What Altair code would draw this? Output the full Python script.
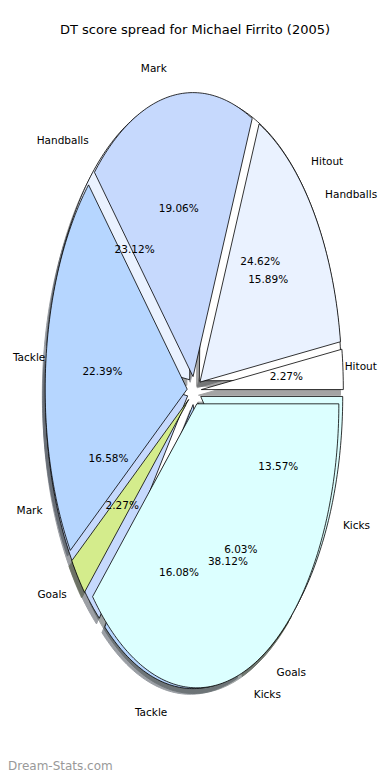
import altair as alt
import numpy as np
import pandas as pd

title_text = "DT score spread for Michael Firrito (2005)"
watermark = "Dream-Stats.com"
categories = ["Hitout", "Handballs", "Mark", "Tackle", "Goals", "Kicks"]
pie_front = [2.27, 15.89, 19.06, 22.39, 2.27, 38.12]
pie_back = [24.62, 23.12, 16.58, 16.08, 6.03, 13.57]
colors = ["#ffffff", "#eaf2ff", "#c6d9fd", "#b6d6ff", "#d4ec8c", "#dcffff"]
EXPLODE = 0.05
FONT_SIZE = 10.5

X_DOMAIN = [-1.3116, 1.3222]
Y_DOMAIN = [-1.3430, 1.3472]
WIDTH, HEIGHT = 374, 764
PX_PER_X = WIDTH / (X_DOMAIN[1] - X_DOMAIN[0])


def fit_label(x, text, side):
    """Keep a side label inside the drawing area (the page margin clips it)."""
    w = (len(text) * 0.56 * FONT_SIZE + 2) / PX_PER_X
    if side == "left":
        return min(x, X_DOMAIN[1] - w)
    return max(x, X_DOMAIN[0] + w)


def wedges(values, pie_name):
    total = sum(values)
    start = 0.0
    poly, shadow, labels = [], [], []
    for i, (cat, v, col) in enumerate(zip(categories, values, colors)):
        span = 360.0 * v / total
        t1, t2 = start, start + span
        mid = np.radians((t1 + t2) / 2)
        ex, ey = EXPLODE * np.cos(mid), EXPLODE * np.sin(mid)
        angs = np.radians(np.linspace(t1, t2, max(2, int(np.ceil(span)) + 1)))
        xs = np.concatenate([[ex], ex + np.cos(angs), [ex]])
        ys = np.concatenate([[ey], ey + np.sin(angs), [ey]])
        sid = f"{pie_name}-{i}"
        rgb = tuple(int(col[j:j + 2], 16) for j in (1, 3, 5))
        shade = "#%02x%02x%02x" % tuple(int(round(0.3 * c)) for c in rgb)
        for k, (x, y) in enumerate(zip(xs, ys)):
            poly.append(dict(slice=sid, k=k, x=float(x), y=float(y), fill=col))
            shadow.append(dict(slice=sid, k=k, x=float(x) - 0.02, y=float(y) - 0.02, fill=shade))
        lx, ly = (EXPLODE + 1.1) * np.cos(mid), (EXPLODE + 1.1) * np.sin(mid)
        side = "left" if lx > 0 else "right"
        labels.append(dict(text=cat, x=float(fit_label(lx, cat, side)), y=float(ly), side=side))
        px, py = (EXPLODE + 0.6) * np.cos(mid), (EXPLODE + 0.6) * np.sin(mid)
        labels.append(dict(text=f"{100 * v / total:.2f}%", x=float(px), y=float(py), side="center"))
        start = t2
    return poly, shadow, labels


back_poly, back_shadow, back_labels = wedges(pie_back, "back")
front_poly, front_shadow, front_labels = wedges(pie_front, "front")

shadow_df = pd.DataFrame(back_shadow + front_shadow)
back_df = pd.DataFrame(back_poly)
front_df = pd.DataFrame(front_poly)
label_df = pd.DataFrame(back_labels + front_labels)

xs = alt.Scale(domain=X_DOMAIN, nice=False, zero=False)
ys = alt.Scale(domain=Y_DOMAIN, nice=False, zero=False)
X = alt.X("x:Q", scale=xs, axis=None)
Y = alt.Y("y:Q", scale=ys, axis=None)

shadows = alt.Chart(shadow_df).mark_line(opacity=0.5, strokeWidth=1, interpolate="linear").encode(
    x=X, y=Y, order="k:Q", detail="slice:N",
    fill=alt.Fill("fill:N", scale=None), stroke=alt.Stroke("fill:N", scale=None),
)
back = alt.Chart(back_df).mark_line(stroke="black", strokeWidth=0.8, interpolate="linear").encode(
    x=X, y=Y, order="k:Q", detail="slice:N", fill=alt.Fill("fill:N", scale=None),
)
front = alt.Chart(front_df).mark_line(stroke="black", strokeWidth=0.8, interpolate="linear").encode(
    x=X, y=Y, order="k:Q", detail="slice:N", fill=alt.Fill("fill:N", scale=None),
)


def text_layer(side):
    return alt.Chart(label_df).transform_filter(alt.datum.side == side).mark_text(
        align=side, baseline="middle", fontSize=FONT_SIZE, font="DejaVu Sans", color="black"
    ).encode(x=X, y=Y, text="text:N")


title = alt.Chart(pd.DataFrame({"t": [title_text]})).mark_text(
    fontSize=13, font="DejaVu Sans", color="black", align="center", baseline="middle"
).encode(x=alt.value(187), y=alt.value(22), text="t:N")

wm = alt.Chart(pd.DataFrame({"t": [watermark]})).mark_text(
    fontSize=12, font="DejaVu Sans", color="#999999", align="left", baseline="alphabetic"
).encode(x=alt.value(0), y=alt.value(762), text="t:N")

chart = alt.layer(
    shadows, back, front, text_layer("left"), text_layer("right"), text_layer("center"), title, wm
).properties(
    width=WIDTH, height=HEIGHT, padding=0, autosize=alt.AutoSizeParams(type="none")
).configure_view(stroke=None)

chart.save("out.html", embed_options={"renderer": "svg", "actions": False})
